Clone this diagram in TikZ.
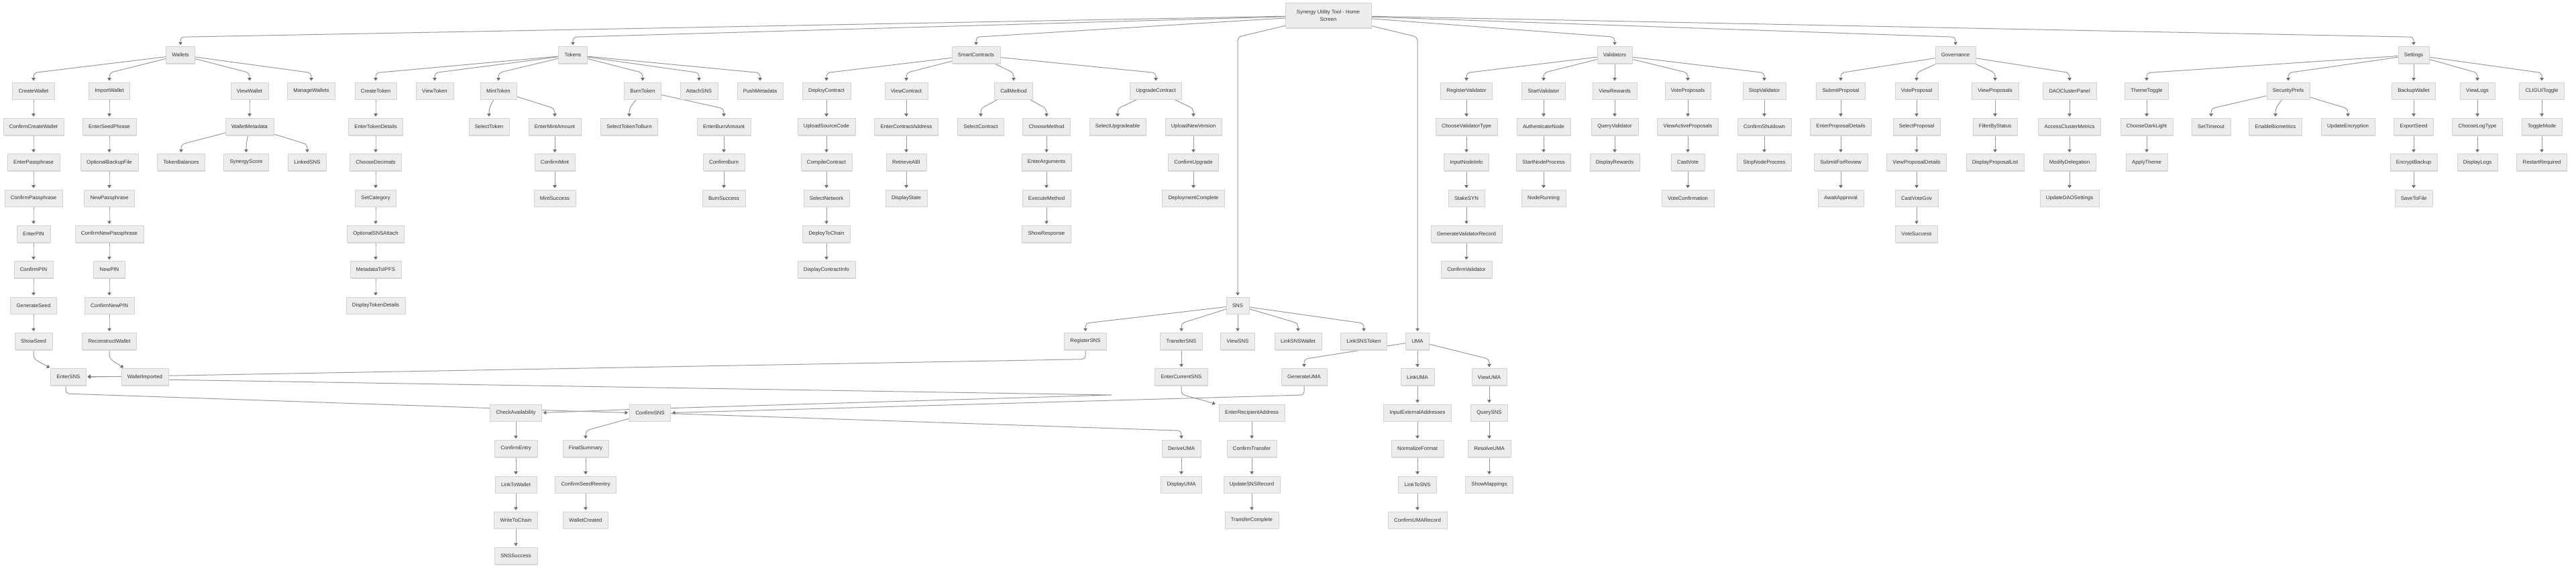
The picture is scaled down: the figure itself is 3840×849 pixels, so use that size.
\documentclass[tikz,border=0pt]{standalone}
\usepackage{fontspec}
\setmainfont{Liberation Sans}
\usetikzlibrary{arrows.meta,shadows,backgrounds}

\definecolor{boxfill}{HTML}{EDEDED}
\definecolor{boxline}{HTML}{D4D4D4}
\definecolor{edgegray}{HTML}{999999}
\definecolor{tipgray}{HTML}{6E6E6E}
\definecolor{txt}{HTML}{333333}

\tikzset{
  screenbox/.style={draw=boxline, line width=0.5pt, fill=boxfill, text=txt,
    font=\fontsize{7.8}{11}\selectfont, inner xsep=9pt, inner ysep=0pt, minimum height=25pt,
    drop shadow={shadow xshift=0.6pt, shadow yshift=-1.3pt, fill=black!16, opacity=1}},
  homebox/.style={screenbox, inner xsep=17pt, minimum height=37pt, align=center},
  plainline/.style={draw=edgegray, line width=1pt, rounded corners=5pt},
  arrowline/.style={plainline, shorten >=2pt, -{Triangle[length=4.5pt,width=5.5pt,color=tipgray]}}
}

\begin{document}
\begin{tikzpicture}[x=1pt, y=-1pt]
\useasboundingbox (0,0) rectangle (3840,849);

%% Screens
% Home screen
\node[homebox] (Home) at (1980,23) {Synergy Utility Tool - Home\\Screen};

% one column at a time: x / first row / screens
\foreach \x/\r/\names in {269/1/{Wallets},854/1/{Tokens},1455/1/{SmartContracts},2407/1/{Validators},2915/1/{Governance},3598/1/{Settings},
  50/2/{CreateWallet,ConfirmCreateWallet,EnterPassphrase,ConfirmPassphrase,EnterPIN,ConfirmPIN,GenerateSeed,ShowSeed},
  163/2/{ImportWallet,EnterSeedPhrase,OptionalBackupFile,NewPassphrase,ConfirmNewPassphrase,NewPIN,ConfirmNewPIN,ReconstructWallet},
  102/10/{EnterSNS},216/10/{WalletImported},
  372/2/{ViewWallet,WalletMetadata},270/4/{TokenBalances},367/4/{SynergyScore},458/4/{LinkedSNS},464/2/{ManageWallets},
  560/2/{CreateToken,EnterTokenDetails,ChooseDecimals,SetCategory,OptionalSNSAttach,MetadataToIPFS,DisplayTokenDetails},
  648/2/{ViewToken},743/2/{MintToken},729/3/{SelectToken},827/3/{EnterMintAmount,ConfirmMint,MintSuccess},
  958/2/{BurnToken},938/3/{SelectTokenToBurn},1079/3/{EnterBurnAmount,ConfirmBurn,BurnSuccess},
  1042/2/{AttachSNS},1133/2/{PushMetadata},
  1232/2/{DeployContract,UploadSourceCode,CompileContract,SelectNetwork,DeployToChain,DisplayContractInfo},
  1351/2/{ViewContract,EnterContractAddress,RetrieveABI,DisplayState},
  1511/2/{CallMethod},1462/3/{SelectContract},1560/3/{ChooseMethod,EnterArguments,ExecuteMethod,ShowResponse},
  1723/2/{UpgradeContract},1666/3/{SelectUpgradeable},1779/3/{UploadNewVersion,ConfirmUpgrade,DeploymentComplete},
  769/11/{CheckAvailability,ConfirmEntry,LinkToWallet,WriteToChain,SNSSuccess},969/11/{ConfirmSNS},
  873/12/{FinalSummary,ConfirmSeedReentry,WalletCreated},
  1845/8/{SNS,ViewSNS},1618/9/{RegisterSNS},1761/9/{TransferSNS,EnterCurrentSNS},
  1866/11/{EnterRecipientAddress,ConfirmTransfer,UpdateSNSRecord,TransferComplete},1761/12/{DeriveUMA,DisplayUMA},
  1935/9/{LinkSNSWallet},2033/9/{LinkSNSToken},1944/10/{GenerateUMA},
  2113/9/{UMA,LinkUMA,InputExternalAddresses,NormalizeFormat,LinkToSNS,ConfirmUMARecord},
  2220/10/{ViewUMA,QuerySNS,ResolveUMA,ShowMappings},
  2186/2/{RegisterValidator,ChooseValidatorType,InputNodeInfo,StakeSYN,GenerateValidatorRecord,ConfirmValidator},
  2301/2/{StartValidator,AuthenticateNode,StartNodeProcess,NodeRunning},
  2407/2/{ViewRewards,QueryValidator,DisplayRewards},
  2516/2/{VoteProposals,ViewActiveProposals,CastVote,VoteConfirmation},
  2630/2/{StopValidator,ConfirmShutdown,StopNodeProcess},
  2744/2/{SubmitProposal,EnterProposalDetails,SubmitForReview,AwaitApproval},
  2857/2/{VoteProposal,SelectProposal,ViewProposalDetails,CastVoteGov,VoteSuccess},
  2974/2/{ViewProposals,FilterByStatus,DisplayProposalList},
  3085/2/{DAOClusterPanel,AccessClusterMetrics,ModifyDelegation,UpdateDAOSettings},
  3200/2/{ThemeToggle,ChooseDarkLight,ApplyTheme},
  3411/2/{SecurityPrefs},3296/3/{SetTimeout},3392/3/{EnableBiometrics},3500/3/{UpdateEncryption},
  3598/2/{BackupWallet,ExportSeed,EncryptBackup,SaveToFile},
  3693/2/{ViewLogs,ChooseLogType,DisplayLogs},
  3789/2/{CLIGUIToggle,ToggleMode,RestartRequired}}
  \foreach \n [count=\k from \r] in \names
    \node[screenbox] (\n) at (\x, {82+(\k-1)*53.36}) {\n};

%% Connectors
\begin{scope}[on background layer]

% parent to child
\foreach \src/\dst in {Home/Wallets,Home/Tokens,Home/SmartContracts,Home/Validators,Home/Governance,Home/Settings,
  Wallets/CreateWallet,Wallets/ImportWallet,Wallets/ViewWallet,Wallets/ManageWallets,
  CreateWallet/ConfirmCreateWallet,ConfirmCreateWallet/EnterPassphrase,EnterPassphrase/ConfirmPassphrase,
  ConfirmPassphrase/EnterPIN,EnterPIN/ConfirmPIN,ConfirmPIN/GenerateSeed,GenerateSeed/ShowSeed,
  ImportWallet/EnterSeedPhrase,EnterSeedPhrase/OptionalBackupFile,OptionalBackupFile/NewPassphrase,
  NewPassphrase/ConfirmNewPassphrase,ConfirmNewPassphrase/NewPIN,NewPIN/ConfirmNewPIN,ConfirmNewPIN/ReconstructWallet,
  ViewWallet/WalletMetadata,WalletMetadata/TokenBalances,WalletMetadata/SynergyScore,WalletMetadata/LinkedSNS,
  Tokens/CreateToken,Tokens/ViewToken,Tokens/MintToken,Tokens/BurnToken,Tokens/AttachSNS,Tokens/PushMetadata,
  CreateToken/EnterTokenDetails,EnterTokenDetails/ChooseDecimals,ChooseDecimals/SetCategory,
  SetCategory/OptionalSNSAttach,OptionalSNSAttach/MetadataToIPFS,MetadataToIPFS/DisplayTokenDetails,
  MintToken/SelectToken,MintToken/EnterMintAmount,EnterMintAmount/ConfirmMint,ConfirmMint/MintSuccess,
  BurnToken/SelectTokenToBurn,BurnToken/EnterBurnAmount,EnterBurnAmount/ConfirmBurn,ConfirmBurn/BurnSuccess,
  SmartContracts/DeployContract,SmartContracts/ViewContract,SmartContracts/CallMethod,SmartContracts/UpgradeContract,
  DeployContract/UploadSourceCode,UploadSourceCode/CompileContract,CompileContract/SelectNetwork,
  SelectNetwork/DeployToChain,DeployToChain/DisplayContractInfo,
  ViewContract/EnterContractAddress,EnterContractAddress/RetrieveABI,RetrieveABI/DisplayState,
  CallMethod/SelectContract,CallMethod/ChooseMethod,ChooseMethod/EnterArguments,EnterArguments/ExecuteMethod,
  ExecuteMethod/ShowResponse,
  UpgradeContract/SelectUpgradeable,UpgradeContract/UploadNewVersion,UploadNewVersion/ConfirmUpgrade,
  ConfirmUpgrade/DeploymentComplete,
  SNS/RegisterSNS,SNS/TransferSNS,SNS/ViewSNS,SNS/LinkSNSWallet,SNS/LinkSNSToken,
  TransferSNS/EnterCurrentSNS,EnterRecipientAddress/ConfirmTransfer,ConfirmTransfer/UpdateSNSRecord,
  UpdateSNSRecord/TransferComplete,DeriveUMA/DisplayUMA,
  UMA/GenerateUMA,UMA/LinkUMA,UMA/ViewUMA,LinkUMA/InputExternalAddresses,InputExternalAddresses/NormalizeFormat,
  NormalizeFormat/LinkToSNS,LinkToSNS/ConfirmUMARecord,ViewUMA/QuerySNS,QuerySNS/ResolveUMA,ResolveUMA/ShowMappings,
  CheckAvailability/ConfirmEntry,ConfirmEntry/LinkToWallet,LinkToWallet/WriteToChain,WriteToChain/SNSSuccess,
  ConfirmSNS/FinalSummary,FinalSummary/ConfirmSeedReentry,ConfirmSeedReentry/WalletCreated,ConfirmSNS/DeriveUMA,
  Validators/RegisterValidator,Validators/StartValidator,Validators/ViewRewards,Validators/VoteProposals,
  Validators/StopValidator,
  RegisterValidator/ChooseValidatorType,ChooseValidatorType/InputNodeInfo,InputNodeInfo/StakeSYN,
  StakeSYN/GenerateValidatorRecord,GenerateValidatorRecord/ConfirmValidator,
  StartValidator/AuthenticateNode,AuthenticateNode/StartNodeProcess,StartNodeProcess/NodeRunning,
  ViewRewards/QueryValidator,QueryValidator/DisplayRewards,
  VoteProposals/ViewActiveProposals,ViewActiveProposals/CastVote,CastVote/VoteConfirmation,
  StopValidator/ConfirmShutdown,ConfirmShutdown/StopNodeProcess,
  Governance/SubmitProposal,Governance/VoteProposal,Governance/ViewProposals,Governance/DAOClusterPanel,
  SubmitProposal/EnterProposalDetails,EnterProposalDetails/SubmitForReview,SubmitForReview/AwaitApproval,
  VoteProposal/SelectProposal,SelectProposal/ViewProposalDetails,ViewProposalDetails/CastVoteGov,
  CastVoteGov/VoteSuccess,ViewProposals/FilterByStatus,FilterByStatus/DisplayProposalList,
  DAOClusterPanel/AccessClusterMetrics,AccessClusterMetrics/ModifyDelegation,ModifyDelegation/UpdateDAOSettings,
  Settings/ThemeToggle,Settings/SecurityPrefs,Settings/BackupWallet,Settings/ViewLogs,Settings/CLIGUIToggle,
  ThemeToggle/ChooseDarkLight,ChooseDarkLight/ApplyTheme,
  SecurityPrefs/SetTimeout,SecurityPrefs/EnableBiometrics,SecurityPrefs/UpdateEncryption,
  BackupWallet/ExportSeed,ExportSeed/EncryptBackup,EncryptBackup/SaveToFile,
  ViewLogs/ChooseLogType,ChooseLogType/DisplayLogs,CLIGUIToggle/ToggleMode,ToggleMode/RestartRequired}
  \draw[arrowline] (\src) -- ([yshift=14pt]\dst.north) -- (\dst.north);

% Home straight down to SNS and UMA
\coordinate (topline) at ([yshift=14pt]Wallets.north);
\draw[arrowline] (Home) -- (SNS.north |- topline) -- (SNS.north);
\draw[arrowline] (Home) -- (UMA.north |- topline) -- (UMA.north);

% into EnterSNS
\draw[arrowline] (ShowSeed.south) -- ++(0,13) -- ([xshift=-26pt]EnterSNS.north);
\draw[arrowline] (ReconstructWallet.south) -- ++(0,13) -- ([xshift=-30pt]WalletImported.north);
\draw[arrowline] ([yshift=1pt]WalletImported.west) -- ([yshift=1pt]EnterSNS.east);
\draw[arrowline] (RegisterSNS.south) -- ++(0,14) -- ([yshift=2pt]WalletImported.east) -- (EnterSNS.east);

% EnterSNS on to CheckAvailability and ConfirmSNS
\draw[plainline] ([xshift=-4pt]EnterSNS.south) -- ++(0,12) -- ([yshift=7pt]CheckAvailability.west);
\draw[arrowline] ([yshift=4pt]CheckAvailability.east) -- (ConfirmSNS.west);
\draw[arrowline] ([yshift=5pt]ConfirmSNS.west) -- (CheckAvailability.east);
\draw[arrowline] (GenerateUMA.south) -- ++(0,14) -- (ConfirmSNS.east);
\coordinate (vtip) at (1657,589);
\draw[plainline, sharp corners] ([yshift=-4pt]WalletImported.east) -- (vtip) -- ([yshift=7pt]ConfirmSNS.east);

% transfer
\draw[arrowline] (EnterCurrentSNS.south) -- ++(0,13) -- ([xshift=-3pt]EnterRecipientAddress.north west);

\end{scope}

\end{tikzpicture}
\end{document}
